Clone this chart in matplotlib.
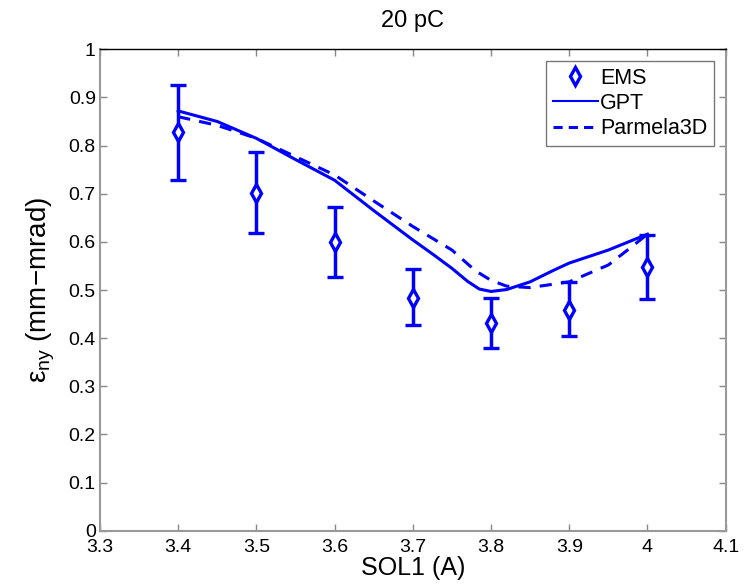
import matplotlib.pyplot as plt
from matplotlib.lines import Line2D
import numpy as np

plt.rcParams['font.family'] = ['Liberation Sans', 'DejaVu Sans']
plt.rcParams['mathtext.default'] = 'regular'

# measured emittance (EMS) with asymmetric error bars
ems_x = [3.4, 3.5, 3.6, 3.7, 3.8, 3.9, 4.0]
ems_y = [0.828, 0.702, 0.600, 0.484, 0.431, 0.458, 0.547]
ems_lo = [0.728, 0.618, 0.528, 0.427, 0.380, 0.404, 0.482]
ems_hi = [0.926, 0.787, 0.673, 0.543, 0.483, 0.517, 0.614]

# GPT simulation
gpt_x = [3.4, 3.45, 3.5, 3.55, 3.6, 3.65, 3.7, 3.725, 3.75, 3.77, 3.785, 3.8,
         3.82, 3.85, 3.88, 3.9, 3.95, 4.0]
gpt_y = [0.872, 0.850, 0.815, 0.771, 0.728, 0.665, 0.604, 0.575, 0.545, 0.518,
         0.502, 0.497, 0.501, 0.517, 0.541, 0.556, 0.583, 0.616]

# Parmela3D simulation
par_x = [3.4, 3.45, 3.5, 3.55, 3.6, 3.65, 3.7, 3.75, 3.78, 3.8, 3.82, 3.85,
         3.9, 3.95, 3.98, 4.0]
par_y = [0.860, 0.842, 0.815, 0.777, 0.739, 0.685, 0.632, 0.583, 0.540, 0.520,
         0.508, 0.505, 0.517, 0.552, 0.590, 0.616]

blue = '#0000ff'

fig = plt.figure(figsize=(7.53, 5.87), dpi=100)
ax = fig.add_axes([0.1328, 0.0959, 0.8309, 0.8201])

yerr = np.array([np.array(ems_y) - np.array(ems_lo), np.array(ems_hi) - np.array(ems_y)])
ax.errorbar(ems_x, ems_y, yerr=yerr, fmt='d', color=blue, mfc='white', mec=blue,
            ms=9, mew=2.4, elinewidth=2.5, capsize=6, capthick=2.5)
ax.plot(gpt_x, gpt_y, color=blue, lw=2.2)
ax.plot(par_x, par_y, color=blue, lw=2.2, linestyle=(0, (4, 3)))

ax.set_xlim(3.3, 4.1)
ax.set_ylim(0, 1)
ax.set_xticks(np.arange(3.3, 4.11, 0.1))
ax.set_xticklabels(['3.3', '3.4', '3.5', '3.6', '3.7', '3.8', '3.9', '4', '4.1'])
ax.set_yticks(np.arange(0, 1.01, 0.1))
ax.set_yticklabels(['0', '0.1', '0.2', '0.3', '0.4', '0.5', '0.6', '0.7', '0.8', '0.9', '1'])

ax.tick_params(direction='in', top=True, right=True, length=5, width=1,
               color='#888888', labelsize=14, pad=3)
ax.tick_params(axis='x', pad=6)
for side in ['left', 'bottom', 'right']:
    ax.spines[side].set_color('#999999')
    ax.spines[side].set_linewidth(1.5)
ax.spines['top'].set_color('black')
ax.spines['top'].set_linewidth(1)

ax.set_title('20 pC', fontsize=17, pad=16)
ax.set_xlabel('SOL1 (A)', fontsize=18, labelpad=0)
ax.set_ylabel('ε$_{ny}$ (mm−mrad)', fontsize=20, labelpad=8)

handles = [
    Line2D([], [], ls='none', marker='d', color=blue, mfc='white', ms=9, mew=2.4),
    Line2D([], [], color=blue, lw=1.5),
    Line2D([], [], color=blue, lw=2.2, linestyle=(0, (3, 2))),
]
leg = ax.legend(handles, ['EMS', 'GPT', 'Parmela3D'], loc='upper right',
                fontsize=15.5, frameon=True, fancybox=False, edgecolor='#555555',
                borderaxespad=0.55, handlelength=2.1, handletextpad=0.1,
                borderpad=0.3, labelspacing=0.2)
leg.get_frame().set_linewidth(1)

fig.savefig('out.png', dpi=100)
